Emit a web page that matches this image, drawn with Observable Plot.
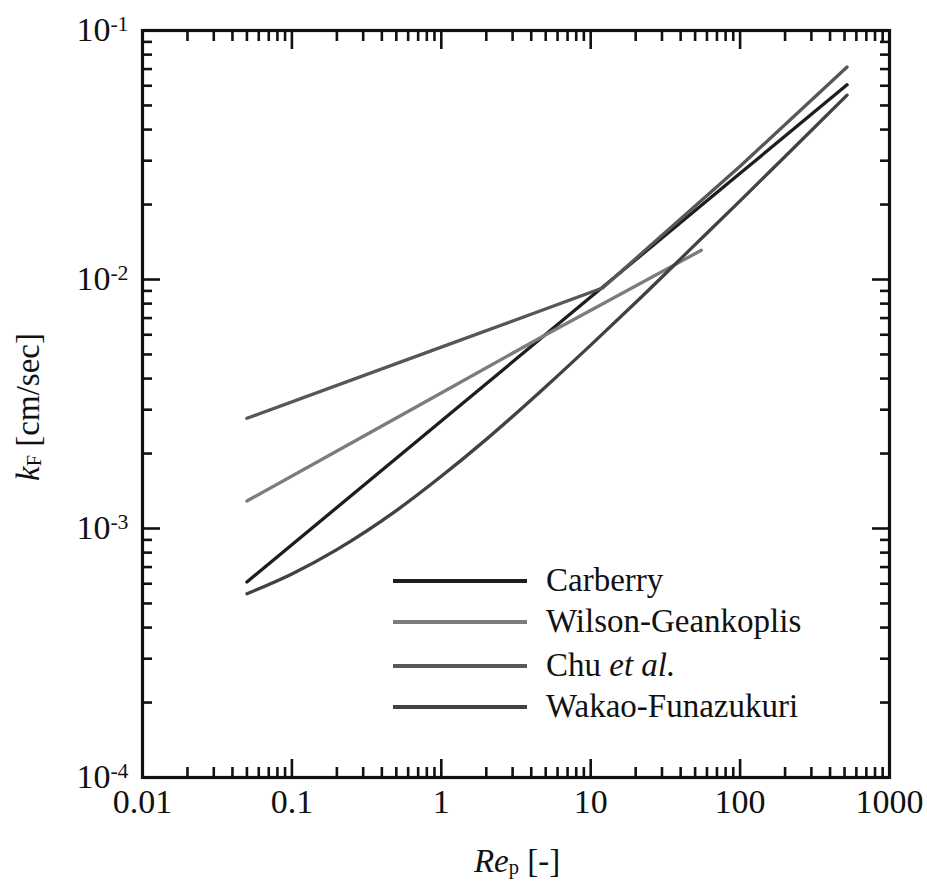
<!DOCTYPE html>
<html>
<head>
<meta charset="utf-8">
<script src="https://cdn.jsdelivr.net/npm/d3@7"></script>
<script src="https://cdn.jsdelivr.net/npm/@observablehq/plot@0.6"></script>
<style>
  html, body { margin: 0; padding: 0; background: #fff; }
  #wrap { position: relative; width: 927px; height: 881px; font-family: "Liberation Serif", "Times New Roman", serif; color: #111; }
  .lg-line { position: absolute; height: 3.5px; }
  .lg-text { position: absolute; font-size: 33px; line-height: 33px; white-space: nowrap; }
  .ttl { position: absolute; font-size: 33px; line-height: 33px; white-space: nowrap; }
  .ttl sub { font-size: 0.62em; vertical-align: baseline; position: relative; top: 0.12em; font-style: normal; }
</style>
</head>
<body>
<div id="wrap"></div>
<script>
// ---- data ----
const seriesNames = ["Carberry", "Wilson-Geankoplis", "Chu et al.", "Wakao-Funazukuri"];
const seriesColors = ["#1e1e1e", "#7c7c7c", "#575757", "#424242"];

const carberryRe = [0.05, 1, 10, 100, 520];
const carberryKF = [6.1e-4, 2.7e-3, 8.5e-3, 2.67e-2, 6.05e-2];

const wilsonRe = [0.05, 0.5, 5, 55];
const wilsonKF = [1.29e-3, 2.78e-3, 6.0e-3, 1.31e-2];

const chuRe = [0.05, 1, 12, 100, 520];
const chuKF = [2.77e-3, 5.35e-3, 9.25e-3, 2.85e-2, 7.13e-2];

const wakaoRe = [0.05, 0.1, 0.2, 0.5, 1, 2, 5, 10, 20, 50, 100, 200, 520];
const wakaoKF = [5.47e-4, 6.57e-4, 8.23e-4, 1.18e-3, 1.62e-3, 2.28e-3, 3.71e-3, 5.45e-3, 8.08e-3, 1.38e-2, 2.07e-2, 3.12e-2, 5.50e-2];

const xMajorTicks = [0.01, 0.1, 1, 10, 100, 1000];
const xTickLabels = ["0.01", "0.1", "1", "10", "100", "1000"];
const yMajorTicks = [1e-4, 1e-3, 1e-2, 1e-1];
const yTickExponents = ["-4", "-3", "-2", "-1"];

// ---- build ----
const toRows = (re, kf, name) => re.map((r, i) => ({Re: r, kF: kf[i], name}));
const series = [
  toRows(carberryRe, carberryKF, seriesNames[0]),
  toRows(wilsonRe, wilsonKF, seriesNames[1]),
  toRows(chuRe, chuKF, seriesNames[2]),
  toRows(wakaoRe, wakaoKF, seriesNames[3])
];
const minorOf = (majors) => majors.slice(0, -1).flatMap(m => [2,3,4,5,6,7,8,9].map(k => k * m));
const xMinor = minorOf(xMajorTicks);
const yMinor = minorOf(yMajorTicks);

const W = 927, H = 881;
const fontFamily = '"Liberation Serif", "Times New Roman", serif';
const tickW = 2.6, majLen = 18, minLen = 10;

const chart = Plot.plot({
  width: W, height: H,
  marginLeft: 142, marginTop: 30, marginRight: 38, marginBottom: 104,
  style: {fontFamily, color: "#111", background: "#fff"},
  x: {type: "log", domain: [0.01, 1000]},
  y: {type: "log", domain: [1e-4, 1e-1]},
  marks: [
    ...series.map((d, i) => Plot.line(d, {
      x: "Re", y: "kF", stroke: seriesColors[i], strokeWidth: 3.3,
      curve: i === 3 ? "monotone-x" : "linear"
    })),
    // inward ticks, four sides
    Plot.axisX({anchor: "bottom", ticks: xMajorTicks, tickSize: majLen, dy: -majLen, text: null, label: null, strokeWidth: tickW}),
    Plot.axisX({anchor: "bottom", ticks: xMinor, tickSize: minLen, dy: -minLen, text: null, label: null, strokeWidth: tickW}),
    Plot.axisX({anchor: "top", ticks: xMajorTicks, tickSize: majLen, dy: majLen, text: null, label: null, strokeWidth: tickW}),
    Plot.axisX({anchor: "top", ticks: xMinor, tickSize: minLen, dy: minLen, text: null, label: null, strokeWidth: tickW}),
    Plot.axisY({anchor: "left", ticks: yMajorTicks, tickSize: majLen, dx: majLen, text: null, label: null, strokeWidth: tickW}),
    Plot.axisY({anchor: "left", ticks: yMinor, tickSize: minLen, dx: minLen, text: null, label: null, strokeWidth: tickW}),
    Plot.axisY({anchor: "right", ticks: yMajorTicks, tickSize: majLen, dx: -majLen, text: null, label: null, strokeWidth: tickW}),
    Plot.axisY({anchor: "right", ticks: yMinor, tickSize: minLen, dx: -minLen, text: null, label: null, strokeWidth: tickW}),
    // tick labels
    Plot.axisX({anchor: "bottom", ticks: xMajorTicks, tickSize: 0, tickPadding: 11, fontSize: 34, label: null,
      tickFormat: d => xTickLabels[xMajorTicks.indexOf(d)]}),
    Plot.axisY({anchor: "left", ticks: yMajorTicks, tickSize: 0, tickPadding: 14, fontSize: 34, label: null,
      tickFormat: d => "10^" + yTickExponents[yMajorTicks.indexOf(d)]}),
    Plot.frame({stroke: "#111", strokeWidth: 3.2})
  ]
});

// superscripts for y tick labels
chart.querySelectorAll('g[aria-label="y-axis tick label"] text').forEach(t => {
  const s = t.textContent;
  if (s.startsWith("10^")) {
    const e = s.slice(3);
    t.textContent = "10";
    const ts = document.createElementNS("http://www.w3.org/2000/svg", "tspan");
    ts.setAttribute("dy", "-0.5em");
    ts.setAttribute("font-size", "0.64em");
    ts.textContent = e;
    t.appendChild(ts);
  }
});

const wrap = document.getElementById("wrap");
wrap.appendChild(chart);

// legend (inside the frame)
const legendX0 = 393, legendX1 = 527, legendTextX = 546;
const legendRowY = [581, 622, 666, 707];
const legendHTML = ["Carberry", "Wilson-Geankoplis", "Chu <i>et al.</i>", "Wakao-Funazukuri"];
seriesNames.forEach((n, i) => {
  const ln = document.createElement("div");
  ln.className = "lg-line";
  ln.style.left = legendX0 + "px";
  ln.style.width = (legendX1 - legendX0) + "px";
  ln.style.top = (legendRowY[i] - 1.75) + "px";
  ln.style.background = seriesColors[i];
  wrap.appendChild(ln);
  const tx = document.createElement("div");
  tx.className = "lg-text";
  tx.style.left = legendTextX + "px";
  tx.style.top = (legendRowY[i] - 17) + "px";
  tx.innerHTML = legendHTML[i];
  wrap.appendChild(tx);
});

// axis titles
const yt = document.createElement("div");
yt.className = "ttl";
yt.innerHTML = '<i>k</i><sub>F</sub> [cm/sec]';
yt.style.left = "30px"; yt.style.top = "407px";
yt.style.transform = "translate(-50%, -50%) rotate(-90deg)";
wrap.appendChild(yt);

const xt = document.createElement("div");
xt.className = "ttl";
xt.innerHTML = '<i>Re</i><sub>p</sub> [-]';
xt.style.left = "517px"; xt.style.top = "845px";
xt.style.transform = "translateX(-50%)";
wrap.appendChild(xt);
</script>
</body>
</html>
